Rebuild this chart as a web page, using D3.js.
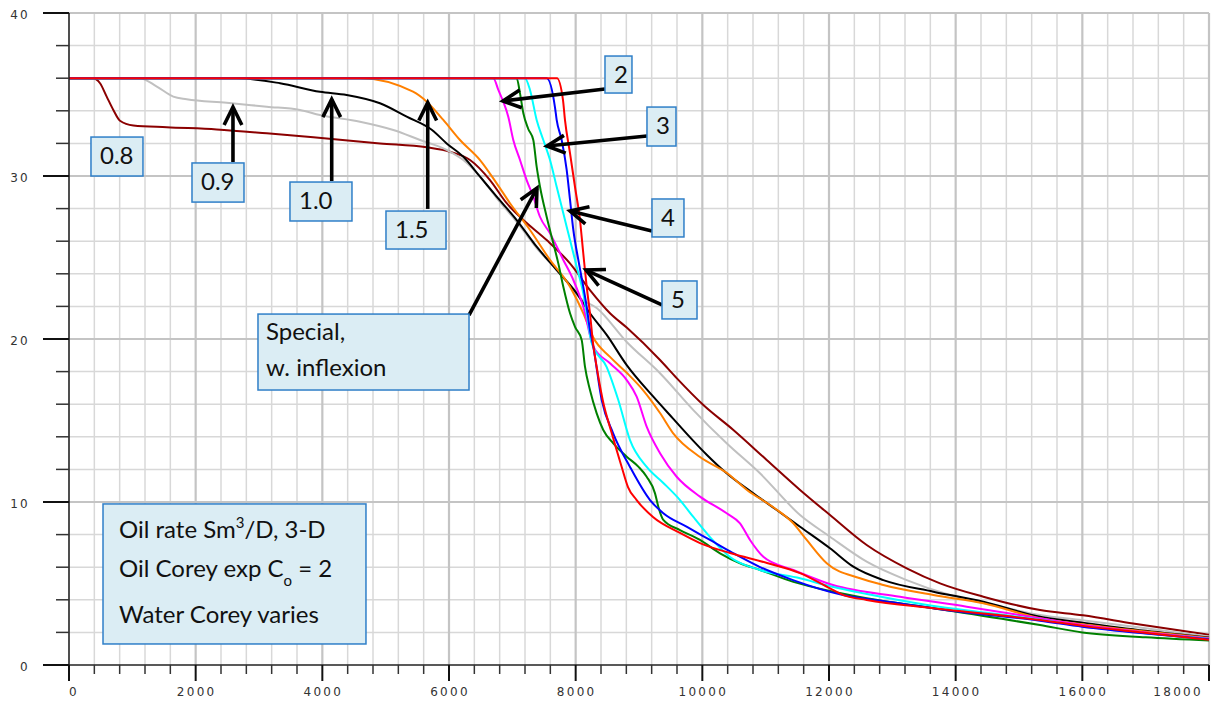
<!DOCTYPE html>
<html>
<head>
<meta charset="utf-8">
<script src="https://cdn.jsdelivr.net/npm/d3@7"></script>
<style>
  html, body { margin: 0; padding: 0; background: #ffffff; }
  svg { display: block; }
</style>
</head>
<body>
<svg id="chart" width="1215" height="702"></svg>
<script>
// Oil rate (Sm3/D) versus time (days) for a 3-D model, oil Corey exponent 2,
// one curve per water Corey exponent.

const xTickValues = [0, 2000, 4000, 6000, 8000, 10000, 12000, 14000, 16000, 18000];
const yTickValues = [0, 10, 20, 30, 40];

const seriesLabels = ["0.8", "0.9", "1.0", "1.5", "2", "Special", "3", "4", "5"];
const seriesColors = ["#8b0000", "#c0c0c0", "#000000", "#ff8000", "#ff00ff", "#008000", "#00ffff", "#0000ff", "#ff0000"];

const oilCorey08 = [[0,36],[380,36],[490,35.69],[595,34.87],[700,34.05],[805,33.39],[1016,33.1],[1543,32.99],[2332,32.86],[3122,32.62],[3858,32.37],[4911,32.0],[5648,31.76],[6016,31.49],[6332,30.98],[6647,29.75],[6911,28.33],[7174,27.3],[7542,26.07],[7910,24.64],[8226,23.0],[8542,21.58],[8806,20.7],[9332,18.71],[9595,17.6],[10016,15.95],[10490,14.42],[11016,12.58],[11543,10.74],[12016,9.2],[12595,7.36],[13227,5.93],[13753,5.01],[14437,4.19],[15332,3.37],[16011,3.05],[16800,2.55],[18000,1.85]];

const oilCorey09 = [[0,36],[1121,36],[1374,35.52],[1647,34.87],[1858,34.71],[2490,34.5],[3122,34.25],[3647,34.05],[3963,33.74],[4595,33.33],[5121,32.82],[5542,32.21],[5963,31.6],[6226,30.98],[6490,29.96],[6753,28.65],[7069,27.18],[7384,25.58],[7800,23.82],[8068,22.52],[8332,21.9],[8806,19.82],[9332,17.9],[9858,15.64],[10384,13.6],[10910,11.76],[11543,9.2],[12016,7.87],[12595,6.34],[13227,5.21],[13910,4.29],[14700,3.58],[15332,3.07],[16000,2.75],[17000,2.25],[18000,1.75]];

const oilCorey10 = [[0,36],[2648,36],[3332,35.69],[3963,35.17],[4385,34.97],[4910,34.46],[5332,33.64],[5732,32.82],[5963,32.0],[6226,31.18],[6490,29.96],[6753,28.73],[7069,27.3],[7384,25.66],[7700,24.23],[8016,22.8],[8226,21.58],[8490,20.25],[8806,18.4],[9226,16.46],[9542,15.1],[9858,13.75],[10069,12.9],[10384,11.76],[10805,10.53],[11174,9.51],[11543,8.48],[12016,7.16],[12384,6.03],[12858,5.21],[13648,4.5],[14437,3.88],[15332,2.96],[16000,2.6],[17000,2.1],[18000,1.68]];

const oilCorey15 = [[0,36],[4595,36],[5432,35.17],[5648,34.56],[5910,33.44],[6174,32.21],[6490,30.98],[6753,29.55],[6963,28.33],[7279,26.69],[7595,24.85],[7911,23.21],[8121,21.58],[8274,20.12],[8542,18.9],[8811,17.91],[9063,16.87],[9332,15.46],[9537,14.23],[9963,12.76],[10389,11.78],[10705,10.74],[11116,9.69],[11432,8.71],[11648,7.67],[11964,6.24],[12490,5.32],[12858,4.91],[13648,4.29],[14437,3.79],[15332,2.87],[16000,2.5],[17000,2.05],[18000,1.65]];

const oilCorey2 = [[0,36],[6700,36],[6779,35.28],[6857,34.56],[6936,33.64],[7015,32.21],[7121,30.98],[7226,29.75],[7331,28.73],[7436,27.5],[7595,26.48],[7805,24.85],[7963,23.62],[8120,21.98],[8279,19.53],[8542,18.51],[8806,17.48],[8963,16.46],[9121,14.62],[9332,12.99],[9595,11.55],[9963,10.33],[10384,9.31],[10595,8.69],[10753,7.67],[10963,6.64],[11437,5.83],[12063,4.91],[13121,4.19],[14174,3.58],[15332,2.87],[16000,2.45],[17000,2.0],[18000,1.62]];

const oilSpecial = [[0,36],[7069,36],[7121,35.07],[7174,33.85],[7250,32.9],[7331,32.21],[7384,30.57],[7437,29.34],[7542,27.5],[7647,25.87],[7726,24.64],[7805,23.21],[7911,21.58],[7990,20.75],[8095,19.94],[8147,18.3],[8226,16.87],[8332,15.44],[8436,14.42],[8594,13.6],[8806,12.78],[8989,12.17],[9121,11.55],[9253,10.53],[9305,9.71],[9384,8.9],[9647,8.28],[9963,7.67],[10279,6.85],[10595,6.24],[10911,5.83],[11437,5.1],[12000,4.55],[12595,4.09],[13648,3.48],[15332,2.45],[16000,2.0],[17000,1.7],[18000,1.5]];

const oilCorey3 = [[0,36],[7200,36],[7279,35.28],[7384,33.44],[7489,32.21],[7595,30.98],[7700,29.34],[7805,27.71],[7911,26.07],[8016,24.44],[8120,22.8],[8174,21.58],[8253,19.75],[8490,18.28],[8673,16.26],[8858,13.8],[9122,12.15],[9384,11.17],[9647,10.12],[9858,9.08],[10121,7.85],[10437,6.63],[10911,5.83],[11543,5.32],[12000,4.85],[12600,4.35],[13600,3.65],[14500,3.2],[15332,2.78],[16000,2.38],[17000,1.95],[18000,1.6]];

const oilCorey4 = [[0,36],[7543,36],[7674,34.2],[7700,33.44],[7779,32.21],[7858,30.37],[7911,28.53],[7963,26.69],[8042,24.85],[8120,23.21],[8174,21.98],[8226,20.55],[8274,19.63],[8411,16.26],[8590,14.23],[8858,12.15],[9174,10.12],[9379,9.33],[9758,8.47],[10121,7.67],[10484,6.87],[10911,6.01],[11432,5.21],[12222,4.29],[13000,3.85],[14000,3.3],[15332,2.72],[16000,2.35],[17000,1.93],[18000,1.58]];

const oilCorey5 = [[0,36],[7705,36],[7800,34.66],[7831,33.44],[7911,31.39],[7989,29.34],[8068,27.3],[8120,25.26],[8174,23.21],[8226,21.58],[8274,19.75],[8332,18.28],[8427,16.26],[8569,14.23],[8727,12.15],[8826,10.92],[8963,10.12],[9221,9.08],[9647,8.1],[9963,7.48],[10437,6.87],[11021,6.26],[11543,5.64],[12016,4.7],[12227,4.29],[12595,3.99],[13648,3.48],[15332,2.76],[16011,2.4],[16800,2.05],[18000,1.55]];

const seriesValues = [oilCorey08, oilCorey09, oilCorey10, oilCorey15, oilCorey2, oilSpecial, oilCorey3, oilCorey4, oilCorey5];

// Callout boxes (data coordinates: left, top, right, bottom) and arrows (from -> tip)
const calloutLabels = ["0.8", "0.9", "1.0", "1.5", "2", "3", "4", "5"];
const calloutBoxes = [
  [347, 32.39, 1168, 30.0],
  [1942, 30.8, 2763, 28.4],
  [3489, 29.63, 4468, 27.24],
  [5005, 27.85, 5953, 25.52],
  [8463, 37.36, 8889, 35.09],
  [9126, 34.23, 9584, 31.84],
  [9205, 28.59, 9710, 26.26],
  [9363, 23.56, 9916, 21.23]
];
const calloutArrows = [
  null,
  [[2589, 30.86], [2589, 34.23]],
  [[4148, 29.69], [4148, 34.71]],
  [[5664, 27.98], [5664, 34.5]],
  [[8463, 35.34], [6852, 34.6]],
  [[9126, 32.45], [7547, 31.84]],
  [[9205, 26.63], [7910, 27.85]],
  [[9363, 22.09], [8163, 24.23]]
];
const specialLines = ["Special,", "w. inflexion"];
const specialBox = [2984, 21.53, 6316, 16.87];
const specialArrow = [[6316, 21.47], [7389, 29.26]];

const legendBox = [537, 9.88, 4689, 1.29];

// ---------------------------------------------------------------------------
const svg = d3.select("#chart");
const x = d3.scaleLinear().domain([0, 18000]).range([69, 1209]);
const y = d3.scaleLinear().domain([0, 40]).range([665, 13]);

const gridG = svg.append("g");
// minor grid
gridG.selectAll("line.vx").data(d3.range(400, 18001, 400).filter(v => v % 2000 !== 0))
  .join("line").attr("x1", d => x(d)).attr("x2", d => x(d)).attr("y1", y(40)).attr("y2", y(0))
  .attr("stroke", "#d8d8d8").attr("stroke-width", 1.5);
gridG.selectAll("line.hy").data(d3.range(2, 41, 2).filter(v => v % 10 !== 0))
  .join("line").attr("x1", x(0)).attr("x2", x(18000)).attr("y1", d => y(d)).attr("y2", d => y(d))
  .attr("stroke", "#d8d8d8").attr("stroke-width", 1.5);
// major grid
gridG.selectAll("line.vX").data(xTickValues.filter(v => v > 0))
  .join("line").attr("x1", d => x(d)).attr("x2", d => x(d)).attr("y1", y(40)).attr("y2", y(0))
  .attr("stroke", "#c4c4c4").attr("stroke-width", 2.2);
gridG.selectAll("line.hY").data(yTickValues.filter(v => v > 0))
  .join("line").attr("x1", x(0)).attr("x2", x(18000)).attr("y1", d => y(d)).attr("y2", d => y(d))
  .attr("stroke", "#c4c4c4").attr("stroke-width", 2.2);

// curves
const line = d3.line().x(d => x(d[0])).y(d => y(d[1])).curve(d3.curveMonotoneX);
svg.append("g").selectAll("path").data(seriesValues).join("path")
  .attr("d", line).attr("fill", "none")
  .attr("stroke", (d, i) => seriesColors[i]).attr("stroke-width", 2)
  .attr("stroke-linejoin", "round");

// axes
const axisG = svg.append("g");
axisG.append("line").attr("x1", x(0)).attr("x2", x(0)).attr("y1", y(40)).attr("y2", y(0) + 16)
  .attr("stroke", "#222").attr("stroke-width", 1.6);
axisG.append("line").attr("x1", x(0) - 26).attr("x2", x(18000)).attr("y1", y(0)).attr("y2", y(0))
  .attr("stroke", "#222").attr("stroke-width", 1.6);
axisG.selectAll("line.ymin").data(d3.range(2, 41, 2).filter(v => v % 10 !== 0)).join("line")
  .attr("x1", x(0) - 13).attr("x2", x(0)).attr("y1", d => y(d)).attr("y2", d => y(d))
  .attr("stroke", "#333").attr("stroke-width", 1.5);
axisG.selectAll("line.ymaj").data(yTickValues).join("line")
  .attr("x1", x(0) - 26).attr("x2", x(0)).attr("y1", d => y(d)).attr("y2", d => y(d))
  .attr("stroke", "#111").attr("stroke-width", 2);
axisG.selectAll("line.xmin").data(d3.range(400, 18001, 400).filter(v => v % 2000 !== 0)).join("line")
  .attr("x1", d => x(d)).attr("x2", d => x(d)).attr("y1", y(0)).attr("y2", y(0) + 9)
  .attr("stroke", "#333").attr("stroke-width", 1.5);
axisG.selectAll("line.xmaj").data(xTickValues).join("line")
  .attr("x1", d => x(d)).attr("x2", d => x(d)).attr("y1", y(0)).attr("y2", y(0) + 16)
  .attr("stroke", "#111").attr("stroke-width", 2);

const tickFont = "DejaVu Sans, Verdana, sans-serif";
axisG.selectAll("text.yl").data(yTickValues).join("text")
  .attr("x", 30).attr("y", d => y(d) + 6).attr("text-anchor", "end")
  .attr("font-family", tickFont).attr("font-size", 12).attr("letter-spacing", 2.3)
  .attr("fill", "#333").text(d => d);
axisG.selectAll("text.xl").data(xTickValues).join("text")
  .attr("x", (d, i) => i === 0 ? x(d) : (i === xTickValues.length - 1 ? x(d) - 6 : x(d) + 1))
  .attr("y", 696)
  .attr("text-anchor", (d, i) => i === 0 ? "start" : (i === xTickValues.length - 1 ? "end" : "middle"))
  .attr("font-family", tickFont).attr("font-size", 12).attr("letter-spacing", 2.3)
  .attr("fill", "#333").text(d => d);

// callouts
const boxFill = "#dbedf4", boxStroke = "#2f7fc8";
const labelFont = "Lato, 'Open Sans', sans-serif";
const labelSize = 24;
const annG = svg.append("g");

function drawArrow(from, tip) {
  const x0 = x(from[0]), y0 = y(from[1]), x1 = x(tip[0]), y1 = y(tip[1]);
  const ang = Math.atan2(y1 - y0, x1 - x0);
  const len = 20, spread = 0.46;
  const a1 = [x1 - len * Math.cos(ang - spread), y1 - len * Math.sin(ang - spread)];
  const a2 = [x1 - len * Math.cos(ang + spread), y1 - len * Math.sin(ang + spread)];
  annG.append("line").attr("x1", x0).attr("y1", y0).attr("x2", x1).attr("y2", y1)
    .attr("stroke", "#000").attr("stroke-width", 3.6);
  annG.append("path").attr("d", `M${a1[0]},${a1[1]}L${x1},${y1}L${a2[0]},${a2[1]}`)
    .attr("fill", "none").attr("stroke", "#000").attr("stroke-width", 3.6)
    .attr("stroke-linejoin", "miter").attr("stroke-miterlimit", 10);
}
function drawBox(b) {
  annG.append("rect").attr("x", x(b[0])).attr("y", y(b[1]))
    .attr("width", x(b[2]) - x(b[0])).attr("height", y(b[3]) - y(b[1]))
    .attr("fill", boxFill).attr("stroke", boxStroke).attr("stroke-width", 1.5);
}

calloutArrows.forEach(a => { if (a) drawArrow(a[0], a[1]); });
drawArrow(specialArrow[0], specialArrow[1]);

calloutBoxes.forEach((b, i) => {
  drawBox(b);
  annG.append("text").attr("x", x(b[0]) + 9).attr("y", y(b[1]) + 27)
    .attr("font-family", labelFont).attr("font-size", labelSize).attr("fill", "#111")
    .text(calloutLabels[i]);
});

drawBox(specialBox);
specialLines.forEach((t, i) => {
  annG.append("text").attr("x", x(specialBox[0]) + 8).attr("y", y(specialBox[1]) + 26 + i * 36)
    .attr("font-family", labelFont).attr("font-size", labelSize).attr("fill", "#111").text(t);
});

// legend note
drawBox(legendBox);
const lx = x(legendBox[0]) + 16, ly = y(legendBox[1]);
const t1 = annG.append("text").attr("x", lx).attr("y", ly + 34)
  .attr("font-family", labelFont).attr("font-size", labelSize).attr("fill", "#111");
t1.append("tspan").text("Oil rate Sm");
t1.append("tspan").attr("dy", -10).attr("font-size", 15).text("3");
t1.append("tspan").attr("dy", 10).text("/D, 3-D");
const t2 = annG.append("text").attr("x", lx).attr("y", ly + 73)
  .attr("font-family", labelFont).attr("font-size", labelSize).attr("fill", "#111");
t2.append("tspan").text("Oil Corey exp C");
t2.append("tspan").attr("dy", 9).attr("font-size", 15).text("o");
t2.append("tspan").attr("dy", -9).text(" = 2");
annG.append("text").attr("x", lx).attr("y", ly + 119)
  .attr("font-family", labelFont).attr("font-size", labelSize).attr("fill", "#111")
  .text("Water Corey varies");
</script>
</body>
</html>
